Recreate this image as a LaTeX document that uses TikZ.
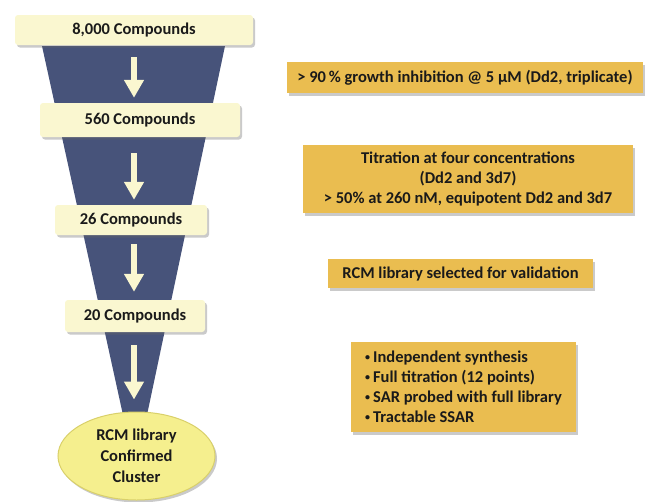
\documentclass[tikz,border=0pt]{standalone}
\usepackage{fontspec}
\setmainfont{Carlito}
\usetikzlibrary{shadows,arrows.meta,shapes.geometric}
\definecolor{funnel}{HTML}{47537A}
\definecolor{pale}{HTML}{FAF7D0}
\definecolor{gold}{HTML}{EABD50}
\definecolor{ellfill}{HTML}{F5EF8E}
\definecolor{ellline}{HTML}{D9D06A}
\definecolor{ink}{HTML}{1A1A1A}
\newcommand{\smbul}{\raisebox{2pt}{\fontsize{10}{10}\selectfont•}\hspace{3pt}}
\tikzset{
  shad/.style={drop shadow={shadow xshift=2pt,shadow yshift=-2.5pt,opacity=0.35,fill=black!60}},
  stage/.style={shad,fill=pale,rounded corners=3pt,font=\bfseries\fontsize{16.5}{20}\selectfont,text=ink,inner sep=0pt},
  note/.style={shad,fill=gold,font=\bfseries\fontsize{16.5}{20}\selectfont,text=ink,inner sep=0pt,align=center},
  flow/.style={draw=pale,line width=6pt,-{Triangle[width=19pt,length=18pt]}},
}
\begin{document}
\begin{tikzpicture}[x=1pt,y=-1pt]
\useasboundingbox (0,0) rectangle (645,501);
% funnel
\fill[funnel] (42,46) -- (225,46) -- (147,415) -- (123,415) -- cycle;
% stages
\node[stage,minimum width=238,minimum height=30] (s1) at (134,30) {8,000 Compounds};
\node[stage,minimum width=200,minimum height=34] (s2) at (140,120) {560 Compounds};
\node[stage,minimum width=152,minimum height=30] (s3) at (131,220) {26 Compounds};
\node[stage,minimum width=140,minimum height=32] (s4) at (135,316) {20 Compounds};
\node[ellipse,shad,fill=ellfill,draw=ellline,line width=1pt,minimum width=157,minimum height=88,inner sep=0pt,align=center,font=\bfseries\fontsize{16.5}{21}\selectfont,text=ink] (s5) at (136.5,456) {RCM library\\Confirmed\\Cluster};
% arrows (vertical, on the funnel axis x = 134)
\coordinate (ax) at (134,0);
\draw[flow] ([yshift=-12pt]s1.south -| ax) -- ([yshift=5pt]s2.north -| ax);
\draw[flow] ([yshift=-16pt]s2.south -| ax) -- ([yshift=5pt]s3.north -| ax);
\draw[flow] ([yshift=-9pt]s3.south -| ax) -- ([yshift=8pt]s4.north -| ax);
\draw[flow] ([yshift=-13pt]s4.south -| ax) -- ([yshift=12pt]s5.north -| ax);
% notes
\node[note,minimum width=356,minimum height=31] (n1) at (465,77.5) {> 90\,\% growth inhibition @ 5 µM (Dd2, triplicate)};
\node[note,minimum width=330,minimum height=68] (n2) at (468,179) {Titration at four concentrations\\(Dd2 and 3d7)\\> 50\% at 260 nM, equipotent Dd2 and 3d7};
\node[note,minimum width=265,minimum height=29] (n3) at (460.5,273.5) {RCM library selected for validation};
\node[note,minimum width=225,minimum height=90,align=left] (n4) at (463.5,387) {\smbul Independent synthesis\\\smbul Full titration (12 points)\\\smbul SAR probed with full library\\\smbul Tractable SSAR};
\end{tikzpicture}
\end{document}
